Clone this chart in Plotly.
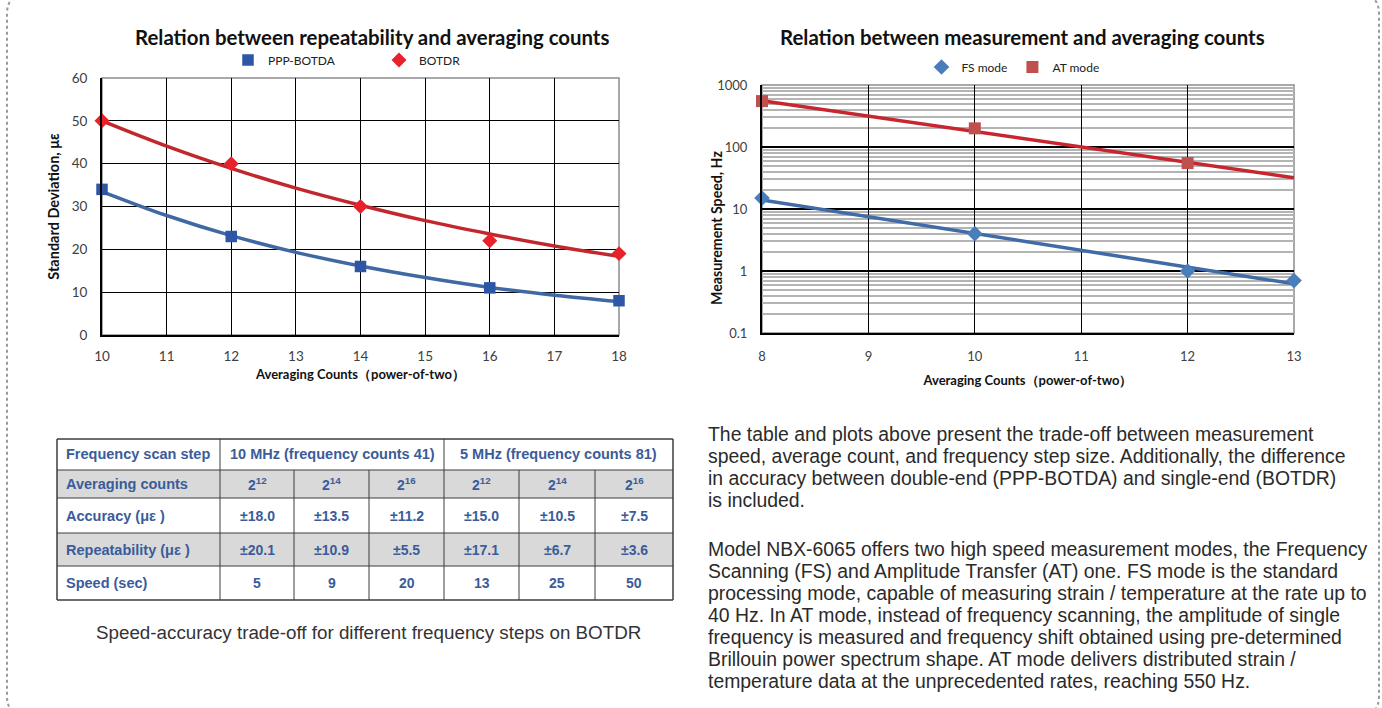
import plotly.graph_objects as go

W, H = 1382, 708


def px(x):
    return x / W


def py(y):
    return 1 - y / H


# ---------------- Chart 1 data: repeatability vs averaging counts ----------------
rep_counts = [10, 12, 14, 16, 18]
ppp_botda = [34, 23, 16, 11, 8]
botdr = [50, 40, 30, 22, 19]
trend_counts = [10, 11, 12, 13, 14, 15, 16, 17, 18]
ppp_trend = [33.5, 27.9, 23.2, 19.3, 16.1, 13.4, 11.1, 9.3, 7.8]
botdr_trend = [50.0, 44.1, 38.9, 34.3, 30.3, 26.7, 23.6, 20.8, 18.4]

# ---------------- Chart 2 data: measurement speed vs averaging counts -------------
fs_counts = [8, 10, 12, 13]
fs_mode = [15, 4, 1, 0.7]
at_counts = [8, 10, 12]
at_mode = [550, 200, 55]
speed_trend_counts = [8, 9, 10, 11, 12, 13]
fs_trend = [14, 7.5, 4.0, 2.15, 1.16, 0.62]
at_trend = [560, 316, 179, 101, 57, 32]
speed_tickvals = [0.1, 1, 10, 100, 1000]
speed_ticktext = ["0.1", "1", "10", "100", "1000"]

# ---------------- Table data ----------------
table_header = ["Frequency scan step", "10 MHz (frequency counts 41)", "5 MHz (frequency counts 81)"]
row_labels = ["Averaging counts", "Accuracy (\u03bc\u03b5 )", "Repeatability (\u03bc\u03b5 )", "Speed (sec)"]
averaging = ["2<sup>12</sup>", "2<sup>14</sup>", "2<sup>16</sup>", "2<sup>12</sup>", "2<sup>14</sup>", "2<sup>16</sup>"]
accuracy = ["\u00b118.0", "\u00b113.5", "\u00b111.2", "\u00b115.0", "\u00b110.5", "\u00b17.5"]
repeatability = ["\u00b120.1", "\u00b110.9", "\u00b15.5", "\u00b117.1", "\u00b16.7", "\u00b13.6"]
speed = ["5", "9", "20", "13", "25", "50"]
table_caption = "Speed-accuracy trade-off for different frequency steps on BOTDR"

para1 = [
    "The table and plots above present the trade-off between measurement",
    "speed, average count, and frequency step size. Additionally, the difference",
    "in accuracy between double-end (PPP-BOTDA) and single-end (BOTDR)",
    "is included.",
]
para2 = [
    "Model NBX-6065 offers two high speed measurement modes, the Frequency",
    "Scanning (FS) and Amplitude Transfer (AT) one. FS mode is the standard",
    "processing mode, capable of measuring strain / temperature at the rate up to",
    "40 Hz. In AT mode, instead of frequency scanning, the amplitude of single",
    "frequency is measured and frequency shift obtained using pre-determined",
    "Brillouin power spectrum shape. AT mode delivers distributed strain /",
    "temperature data at the unprecedented rates, reaching 550 Hz.",
]

CH_FONT = "Lato"
TXT_FONT = "Liberation Sans"
TBL_BLUE = "#3A5C9A"

fig = go.Figure()

# ---- chart 1 traces
fig.add_trace(go.Scatter(x=trend_counts, y=ppp_trend, mode="lines", line=dict(color="#4069A3", width=3.5, shape="spline"),
                         showlegend=False, hoverinfo="skip", xaxis="x", yaxis="y"))
fig.add_trace(go.Scatter(x=trend_counts, y=botdr_trend, mode="lines", line=dict(color="#C3272E", width=3.5, shape="spline"),
                         showlegend=False, hoverinfo="skip", xaxis="x", yaxis="y"))
fig.add_trace(go.Scatter(x=rep_counts, y=ppp_botda, mode="markers", name="PPP-BOTDA",
                         marker=dict(symbol="square", size=11.5, color="#2D56A6"), cliponaxis=False,
                         xaxis="x", yaxis="y", legend="legend"))
fig.add_trace(go.Scatter(x=rep_counts, y=botdr, mode="markers", name="BOTDR",
                         marker=dict(symbol="diamond", size=11.5, color="#E8222A"), cliponaxis=False,
                         xaxis="x", yaxis="y", legend="legend"))

# ---- chart 2 traces
fig.add_trace(go.Scatter(x=speed_trend_counts, y=at_trend, mode="lines", line=dict(color="#C8262F", width=3.5),
                         showlegend=False, hoverinfo="skip", xaxis="x2", yaxis="y2"))
fig.add_trace(go.Scatter(x=speed_trend_counts, y=fs_trend, mode="lines", line=dict(color="#3F6BA6", width=3.5),
                         showlegend=False, hoverinfo="skip", xaxis="x2", yaxis="y2"))
fig.add_trace(go.Scatter(x=fs_counts, y=fs_mode, mode="markers", name="FS mode",
                         marker=dict(symbol="diamond", size=12, color="#4A7EBB"), cliponaxis=False,
                         xaxis="x2", yaxis="y2", legend="legend2"))
fig.add_trace(go.Scatter(x=at_counts, y=at_mode, mode="markers", name="AT mode",
                         marker=dict(symbol="square", size=12, color="#C0504D"), cliponaxis=False,
                         xaxis="x2", yaxis="y2", legend="legend2"))

tickfont = dict(family=CH_FONT, size=13.5, color="#404040")
titlefont = dict(family=CH_FONT, size=13, color="#111111", weight="bold")

fig.update_layout(
    width=W, height=H, autosize=False, margin=dict(l=0, r=0, t=0, b=0, pad=0, autoexpand=False),
    paper_bgcolor="white", plot_bgcolor="rgba(0,0,0,0)",
    xaxis=dict(domain=[px(102), px(619)], range=[10, 18], dtick=1, showgrid=True, gridcolor="#000000", gridwidth=1,
               showline=True, linecolor="#000000", linewidth=2, zeroline=False, ticks="", ticklabelstandoff=8,
               tickfont=tickfont, fixedrange=True,
               title=dict(text="Averaging Counts\uff08power-of-two\uff09", font=titlefont, standoff=7),
               anchor="y"),
    yaxis=dict(domain=[py(335), py(78)], range=[0, 60], dtick=10, showgrid=True, gridcolor="#000000", gridwidth=1,
               showline=True, linecolor="#000000", linewidth=2, zeroline=False, ticks="", ticklabelstandoff=10,
               tickfont=tickfont, fixedrange=True,
               title=dict(text="Standard Deviation, \u03bc\u03b5",
                          font=dict(family=CH_FONT, size=14.5, color="#111111", weight="bold"), standoff=9),
               anchor="x"),
    xaxis2=dict(domain=[px(762), px(1294)], range=[8, 13], dtick=1, showgrid=True, gridcolor="#000000", gridwidth=1,
                showline=True, linecolor="#000000", linewidth=2, zeroline=False, ticks="", ticklabelstandoff=10,
                tickfont=dict(family=CH_FONT, size=13, color="#404040"), fixedrange=True,
                title=dict(text="Averaging Counts\uff08power-of-two\uff09", font=titlefont, standoff=13),
                anchor="y2"),
    yaxis2=dict(domain=[py(333), py(85)], type="log", range=[-1, 3], tickvals=speed_tickvals, ticktext=speed_ticktext,
                showgrid=True, gridcolor="#000000", gridwidth=2,
                minor=dict(dtick="D1", showgrid=True, gridcolor="#B4B4B4", gridwidth=1.5, ticks=""),
                showline=True, linecolor="#000000", linewidth=2, zeroline=False, ticks="", ticklabelstandoff=10,
                tickfont=dict(family=CH_FONT, size=13, color="#404040"), fixedrange=True,
                anchor="x2"),
    legend=dict(orientation="h", x=px(228), y=py(60), xanchor="left", yanchor="middle", entrywidth=106,
                font=dict(family=CH_FONT, size=12, color="#222222"), bgcolor="rgba(0,0,0,0)", itemclick=False,
                itemdoubleclick=False, tracegroupgap=0),
    legend2=dict(orientation="h", x=px(1013), y=py(67), xanchor="center", yanchor="middle",
                 font=dict(family=CH_FONT, size=12, color="#222222"), bgcolor="rgba(0,0,0,0)", itemclick=False,
                 itemdoubleclick=False),
    showlegend=True,
)

shapes = []
annotations = []

# plot-area borders (gray top/right frame)
shapes.append(dict(type="rect", xref="paper", yref="paper", x0=px(102), x1=px(619), y0=py(335), y1=py(78),
                   line=dict(color="#8C8C8C", width=1.5), layer="below"))
shapes.append(dict(type="rect", xref="paper", yref="paper", x0=px(762), x1=px(1294), y0=py(333), y1=py(85),
                   line=dict(color="#8C8C8C", width=1.5), layer="below"))

# chart titles
annotations.append(dict(text="<b>Relation between repeatability and averaging counts</b>", x=px(372), y=py(37),
                        xref="paper", yref="paper", showarrow=False, xanchor="center", yanchor="middle",
                        font=dict(family=CH_FONT, size=20.4, color="#111111")))
annotations.append(dict(text="<b>Relation between measurement and averaging counts</b>", x=px(1022), y=py(37),
                        xref="paper", yref="paper", showarrow=False, xanchor="center", yanchor="middle",
                        font=dict(family=CH_FONT, size=20.4, color="#111111")))
# right chart y-axis title (sits close to the tick labels)
annotations.append(dict(text="<b>Measurement Speed, Hz</b>", x=px(716), y=py(228), xref="paper", yref="paper",
                        showarrow=False, xanchor="center", yanchor="middle", textangle=-90,
                        font=dict(family=CH_FONT, size=14.2, color="#111111")))

# ---- table drawing
col_edges = [57, 220, 294, 369, 444, 519, 595, 673]
row_edges = [439, 470, 498, 533, 566, 600]
for ri in (1, 3):
    shapes.append(dict(type="rect", xref="paper", yref="paper", x0=px(col_edges[0]), x1=px(col_edges[-1]),
                       y0=py(row_edges[ri + 1]), y1=py(row_edges[ri]), fillcolor="#D9D9D9", line=dict(width=0),
                       layer="below"))
for yv in row_edges:
    w = 1.5 if yv in (row_edges[0], row_edges[-1]) else 1
    shapes.append(dict(type="line", xref="paper", yref="paper", x0=px(col_edges[0]), x1=px(col_edges[-1]),
                       y0=py(yv), y1=py(yv), line=dict(color="#3C3C3C", width=w)))
for i, xv in enumerate(col_edges):
    full = i in (0, 1, 4, 7)
    y_top = row_edges[0] if full else row_edges[1]
    w = 1.5 if i in (0, 7) else 1
    shapes.append(dict(type="line", xref="paper", yref="paper", x0=px(xv), x1=px(xv),
                       y0=py(y_top), y1=py(row_edges[-1]), line=dict(color="#3C3C3C", width=w)))

tbl_font = dict(family=TXT_FONT, size=14.5, color=TBL_BLUE)
val_font = dict(family=TXT_FONT, size=14, color=TBL_BLUE)
row_mid = [(row_edges[i] + row_edges[i + 1]) / 2 for i in range(len(row_edges) - 1)]
# header
annotations.append(dict(text="<b>" + table_header[0] + "</b>", x=px(64), y=py(row_mid[0]), xref="paper", yref="paper",
                        showarrow=False, xanchor="left", yanchor="middle", font=tbl_font))
annotations.append(dict(text="<b>" + table_header[1] + "</b>", x=px((col_edges[1] + col_edges[4]) / 2),
                        y=py(row_mid[0]), xref="paper", yref="paper", showarrow=False, xanchor="center",
                        yanchor="middle", font=tbl_font))
annotations.append(dict(text="<b>" + table_header[2] + "</b>", x=px((col_edges[4] + col_edges[7]) / 2),
                        y=py(row_mid[0]), xref="paper", yref="paper", showarrow=False, xanchor="center",
                        yanchor="middle", font=tbl_font))
body = [averaging, accuracy, repeatability, speed]
for r, (lab, vals) in enumerate(zip(row_labels, body)):
    ym = row_mid[r + 1]
    annotations.append(dict(text="<b>" + lab + "</b>", x=px(64), y=py(ym), xref="paper", yref="paper",
                            showarrow=False, xanchor="left", yanchor="middle", font=tbl_font))
    for c, v in enumerate(vals):
        xm = (col_edges[c + 1] + col_edges[c + 2]) / 2
        annotations.append(dict(text="<b>" + v + "</b>", x=px(xm), y=py(ym), xref="paper", yref="paper",
                                showarrow=False, xanchor="center", yanchor="middle", font=val_font))

annotations.append(dict(text=table_caption, x=px(368), y=py(632), xref="paper", yref="paper", showarrow=False,
                        xanchor="center", yanchor="middle", font=dict(family=TXT_FONT, size=18.8, color="#333333")))

# paragraphs, one annotation per line (22 px line pitch)
para_font = dict(family=TXT_FONT, size=19.4, color="#2A2A2A")
for start_y, lines in ((434, para1), (549, para2)):
    for k, line in enumerate(lines):
        annotations.append(dict(text=line, x=px(706), y=py(start_y + 22 * k), xref="paper", yref="paper",
                                showarrow=False, xanchor="left", yanchor="middle", align="left", font=para_font))

# dotted rounded frame around the whole panel
x0, x1, y0, y1, r = 7, 1379, -6, 716, 20


def P(x, y):
    return f"{px(x):.5f},{py(y):.5f}"


path = (f"M {P(x0 + r, y0)} L {P(x1 - r, y0)} Q {P(x1, y0)} {P(x1, y0 + r)} "
        f"L {P(x1, y1 - r)} Q {P(x1, y1)} {P(x1 - r, y1)} L {P(x0 + r, y1)} Q {P(x0, y1)} {P(x0, y1 - r)} "
        f"L {P(x0, y0 + r)} Q {P(x0, y0)} {P(x0 + r, y0)} Z")
shapes.append(dict(type="path", xref="paper", yref="paper", path=path, line=dict(color="#9A9A9A", width=2, dash="dot")))

fig.update_layout(shapes=shapes, annotations=annotations)
fig.write_html(
    "out.html",
    config={"responsive": False, "displayModeBar": False},
    post_script="document.body.style.margin='0px';document.body.style.padding='0px';"
                "document.documentElement.style.overflow='hidden';document.body.style.overflow='hidden';",
)
